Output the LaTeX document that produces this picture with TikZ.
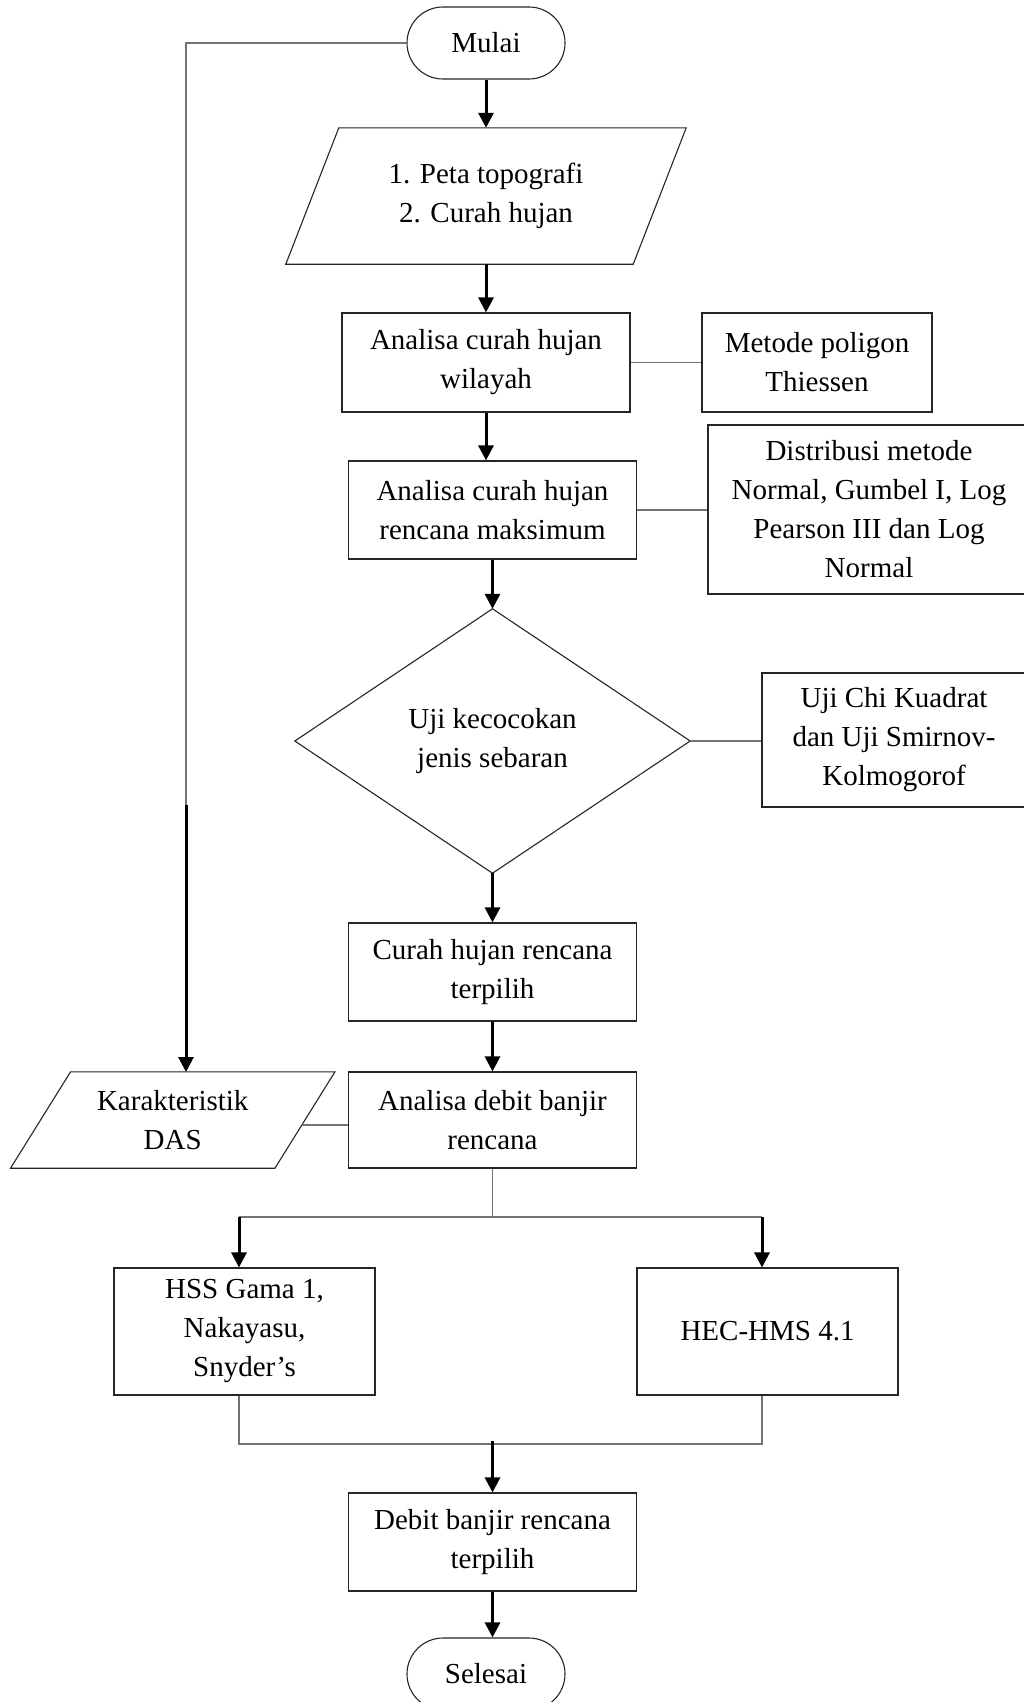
\documentclass[tikz,border=0pt]{standalone}
\usepackage{fontspec}
\setmainfont{Liberation Serif}
\usetikzlibrary{arrows.meta,calc}
\begin{document}
\begin{tikzpicture}[x=1pt,y=-1pt,
  every node/.style={font=\fontsize{29}{39}\selectfont, align=center, inner sep=0pt},
  outl/.style={draw=black!85, line width=1.1pt},
  box/.style={outl, minimum width=288pt, minimum height=98pt},
  term/.style={outl, rounded corners=36pt, minimum width=158pt, minimum height=72pt},
  link/.style={draw=black!55, line width=1.2pt},
  arr/.style={draw=black, line width=3pt, -{Triangle[length=15pt,width=15pt]}},
]
\path[use as bounding box] (0,0) rectangle (1024,1702);
\fill[white] (0,0) rectangle (1024,1702);
\clip (0,0) rectangle (1024,1702);

% nodes
\node[term] (m) at (486,43) {Mulai};
\node[minimum width=347pt, minimum height=136pt] (p1) at (486,196) {1. Peta topografi\\2. Curah hujan};
\draw[outl] ($(p1.north west)+(26.5,0)$) -- ($(p1.north east)+(26.5,0)$) -- ($(p1.south east)+(-26.5,0)$) -- ($(p1.south west)+(-26.5,0)$) -- cycle;

\node[box, minimum height=99pt] (b1) at (486,362.5) {Analisa curah hujan\\wilayah};
\node[outl, minimum width=230pt, minimum height=99pt] (r1) at (817,362.5) {Metode poligon\\Thiessen};

\node[box] (b2) at (492.5,510) {Analisa curah hujan\\rencana maksimum};
\node[outl, minimum width=322pt, minimum height=169pt] (r2) at (869,509.5) {Distribusi metode\\Normal, Gumbel I, Log\\Pearson III dan Log\\Normal};

\node[minimum width=395pt, minimum height=264pt] (d) at (492.5,741) {Uji kecocokan\\jenis sebaran};
\draw[outl] (d.north) -- (d.east) -- (d.south) -- (d.west) -- cycle;
\node[outl, minimum width=264pt, minimum height=134pt] (r3) at (894,740) {Uji Chi Kuadrat\\dan Uji Smirnov-\\Kolmogorof};

\node[box] (b3) at (492.5,972) {Curah hujan rencana\\terpilih};
\node[box, minimum height=96pt] (b4) at (492.5,1120) {Analisa debit banjir\\rencana};

\node[minimum width=264pt, minimum height=96pt] (k) at (172.75,1120) {Karakteristik\\DAS};
\draw[outl] ($(k.north west)+(30,0)$) -- ($(k.north east)+(30,0)$) -- ($(k.south east)+(-30,0)$) -- ($(k.south west)+(-30,0)$) -- cycle;

\node[outl, minimum width=261pt, minimum height=127pt] (h1) at (244.5,1331.5) {HSS Gama 1,\\Nakayasu,\\Snyder’s};
\node[outl, minimum width=261pt, minimum height=127pt] (h2) at (767.5,1331.5) {HEC-HMS 4.1};

\node[box] (b5) at (492.5,1542) {Debit banjir rencana\\terpilih};
\node[term] (s) at (486,1674) {Selesai};

% coordinates
\coordinate (kmid) at (186,805);
\coordinate (kin) at (186,1072);
\coordinate (kr) at (301.6,1125);
\coordinate (sc) at (492.5,1217);
\coordinate (sl) at (239,1217);
\coordinate (sr) at (762,1217);
\coordinate (ml) at (239,1444);
\coordinate (mr) at (762,1444);
\coordinate (mc) at (492.5,1444);

% thin links
\draw[link] (m.west) -| (kmid);
\draw[link] (b1.east) -- (r1.west);
\draw[link] (b2.east) -- (b2.east -| r2.west);
\draw[link] (d.east) -- (d.east -| r3.west);
\draw[link] (kr) -- (kr -| b4.west);
\draw[link] (b4.south) -- (sc);
\draw[link] (sl) -- (sr);
\draw[link] (h1.south -| ml) -- (ml) -- (mr) -- (h2.south -| mr);

% arrows
\draw[arr] (kmid) -- (kin);
\draw[arr] (m.south) -- (p1.north);
\draw[arr] (p1.south) -- (b1.north);
\draw[arr] (b1.south) -- (b1.south |- b2.north);
\draw[arr] (b2.south) -- (d.north);
\draw[arr] (d.south) -- (b3.north);
\draw[arr] (b3.south) -- (b4.north);
\draw[arr] (sl) -- (sl |- h1.north);
\draw[arr] (sr) -- (sr |- h2.north);
\draw[arr] ($(mc)+(0,-3)$) -- (b5.north);
\draw[arr] (b5.south) -- (b5.south |- s.north);
\end{tikzpicture}
\end{document}
